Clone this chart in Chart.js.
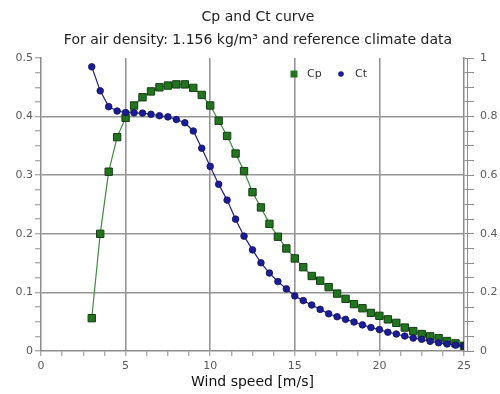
<!DOCTYPE html>
<html>
<head>
<meta charset="utf-8">
<script src="https://cdn.jsdelivr.net/npm/chart.js@4.4.0/dist/chart.umd.min.js"></script>
<style>
  html, body { margin: 0; padding: 0; background: #fff; }
  #wrap { width: 500px; height: 394px; }
</style>
</head>
<body>
<div id="wrap"><canvas id="cpctChart" width="500" height="394"></canvas></div>
<script>
const windSpeeds = [3, 3.5, 4, 4.5, 5, 5.5, 6, 6.5, 7, 7.5, 8, 8.5, 9, 9.5, 10, 10.5, 11, 11.5, 12, 12.5,
    13, 13.5, 14, 14.5, 15, 15.5, 16, 16.5, 17, 17.5, 18, 18.5, 19, 19.5, 20, 20.5, 21, 21.5, 22, 22.5,
    23, 23.5, 24, 24.5, 25];
const cpValues = [0.056, 0.200, 0.306, 0.365, 0.398, 0.419, 0.433, 0.443, 0.450, 0.453, 0.455, 0.455, 0.449,
    0.437, 0.419, 0.393, 0.367, 0.337, 0.307, 0.271, 0.245, 0.217, 0.195, 0.175, 0.158, 0.143, 0.128, 0.120,
    0.109, 0.098, 0.089, 0.080, 0.073, 0.065, 0.060, 0.054, 0.048, 0.040, 0.034, 0.029, 0.025, 0.022, 0.017,
    0.013, 0.009];
const ctValues = [0.970, 0.888, 0.834, 0.819, 0.814, 0.813, 0.812, 0.808, 0.803, 0.799, 0.790, 0.779, 0.751,
    0.692, 0.630, 0.569, 0.515, 0.450, 0.392, 0.345, 0.301, 0.266, 0.237, 0.212, 0.188, 0.172, 0.157, 0.142,
    0.127, 0.117, 0.108, 0.099, 0.089, 0.080, 0.073, 0.064, 0.058, 0.051, 0.044, 0.040, 0.033, 0.028, 0.024,
    0.020, 0.017];

const xTickLabels = [0, 5, 10, 15, 20, 25];
const cpTickLabels = [0, 0.1, 0.2, 0.3, 0.4, 0.5];
const ctTickLabels = [0, 0.2, 0.4, 0.6, 0.8, 1];

const FONT = "'DejaVu Sans', Verdana, sans-serif";
const GRID = '#969696';
const AXIS = '#8c8c8c';

const inList = (v, list) => list.some(t => Math.abs(t - v) < 1e-6);
// inner grid lines only (edges are drawn by the borders)
const gridColor = list => ctx => {
    if (!ctx.tick) return 'rgba(0,0,0,0)';
    const v = ctx.tick.value;
    if (v === list[0] || v === list[list.length - 1]) return 'rgba(0,0,0,0)';
    return inList(v, list) ? GRID : 'rgba(0,0,0,0)';
};

const cpPoints = windSpeeds.map((w, i) => ({ x: w, y: cpValues[i] }));
const ctPoints = windSpeeds.map((w, i) => ({ x: w, y: ctValues[i] }));

// legend drawn inside the plot, near the top
const insideLegend = {
    id: 'insideLegend',
    afterDatasetsDraw(chart) {
        const { ctx, chartArea } = chart;
        const cp = chart.data.datasets[0], ct = chart.data.datasets[1];
        const y = chartArea.top + 16;
        const x0 = chartArea.left + 253;
        ctx.save();
        ctx.fillStyle = cp.backgroundColor;
        ctx.fillRect(x0 - 3.5, y - 3.5, 7, 7);
        ctx.fillStyle = ct.backgroundColor;
        ctx.beginPath();
        ctx.arc(x0 + 47, y, 2.8, 0, Math.PI * 2);
        ctx.fill();
        ctx.fillStyle = '#333';
        ctx.font = '11px ' + FONT;
        ctx.textBaseline = 'middle';
        ctx.fillText(cp.label, x0 + 13, y);
        ctx.fillText(ct.label, x0 + 61, y);
        ctx.restore();
    }
};

// second thin frame line on the right side
const rightFrame = {
    id: 'rightFrame',
    afterDraw(chart) {
        const { ctx, chartArea } = chart;
        ctx.save();
        ctx.strokeStyle = AXIS;
        ctx.lineWidth = 1;
        ctx.beginPath();
        ctx.moveTo(chartArea.right + 3.5, chartArea.top);
        ctx.lineTo(chartArea.right + 3.5, chartArea.bottom);
        ctx.stroke();
        ctx.restore();
    }
};

new Chart(document.getElementById('cpctChart').getContext('2d'), {
    type: 'line',
    data: {
        datasets: [{
            label: 'Cp',
            data: cpPoints,
            yAxisID: 'y',
            order: 1,
            borderColor: '#3d8c3d',
            borderWidth: 1.2,
            backgroundColor: '#23741f',
            pointStyle: 'rect',
            pointRadius: 5.2,
            pointBorderColor: '#123d12',
            pointBorderWidth: 1,
            tension: 0
        }, {
            label: 'Ct',
            data: ctPoints,
            yAxisID: 'y1',
            order: 0,
            borderColor: '#1e1e85',
            borderWidth: 1.2,
            backgroundColor: '#1c1c96',
            pointStyle: 'circle',
            pointRadius: 3.3,
            pointBorderColor: '#10105c',
            pointBorderWidth: 0.8,
            tension: 0
        }]
    },
    options: {
        responsive: false,
        animation: false,
        devicePixelRatio: 1,
        layout: { padding: { left: 16, right: 0, top: 4, bottom: 0 } },
        plugins: {
            legend: { display: false },
            tooltip: { enabled: false },
            title: {
                display: true,
                text: ['Cp and Ct curve', 'For air density: 1.156 kg/m\u00b3 and reference climate data'],
                color: '#222',
                font: { family: FONT, size: 14, weight: 'normal', lineHeight: 1.64 },
                padding: { top: 2, bottom: 6.1 }
            }
        },
        scales: {
            x: {
                type: 'linear',
                min: 0,
                max: 25,
                afterFit: s => { s.height = 43; },
                ticks: {
                    stepSize: 1.25,
                    autoSkip: false,
                    maxRotation: 0,
                    padding: 4,
                    color: '#5a5a5a',
                    font: { family: FONT, size: 11 },
                    callback: v => inList(v, xTickLabels) ? String(v) : ''
                },
                grid: { color: gridColor(xTickLabels), lineWidth: 1.6, tickColor: AXIS, tickLength: 5, tickWidth: 1 },
                border: { color: AXIS, width: 1.5 },
                title: {
                    display: true,
                    text: 'Wind speed [m/s]',
                    color: '#111',
                    font: { family: FONT, size: 14 },
                    padding: { top: 0, bottom: 3 }
                }
            },
            y: {
                position: 'left',
                min: 0,
                max: 0.5,
                afterFit: s => { s.width = 25; },
                ticks: {
                    stepSize: 0.025,
                    autoSkip: false,
                    padding: 2,
                    color: '#5a5a5a',
                    font: { family: FONT, size: 11 },
                    callback: v => inList(v, cpTickLabels) ? String(Math.round(v * 10) / 10) : ''
                },
                grid: { color: gridColor(cpTickLabels), lineWidth: 1.6, tickColor: AXIS, tickLength: 6, tickWidth: 1 },
                border: { color: AXIS, width: 1.5 }
            },
            y1: {
                position: 'right',
                min: 0,
                max: 1,
                afterFit: s => { s.width = 36; },
                ticks: {
                    stepSize: 0.05,
                    autoSkip: false,
                    padding: 6,
                    color: '#5a5a5a',
                    font: { family: FONT, size: 11 },
                    callback: v => inList(v, ctTickLabels) ? String(Math.round(v * 10) / 10) : ''
                },
                grid: { drawOnChartArea: false, tickColor: AXIS, tickLength: 10, tickWidth: 1 },
                border: { color: AXIS, width: 1.5 }
            }
        }
    },
    plugins: [insideLegend, rightFrame]
});
</script>
</body>
</html>
